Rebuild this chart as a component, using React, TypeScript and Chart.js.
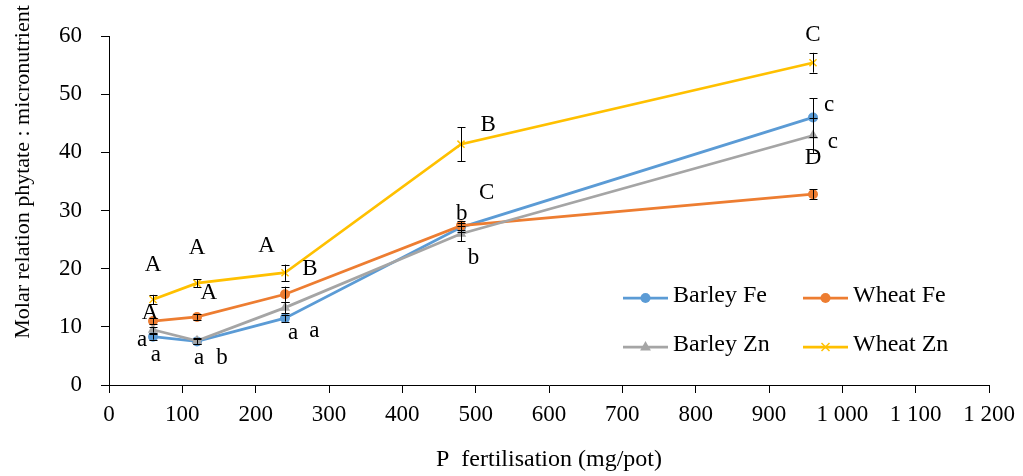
import React, { useEffect, useRef } from 'react';
import { Chart, registerables } from 'chart.js';
Chart.register(...registerables);

const FONT_FAMILY = '"Liberation Serif", "DejaVu Serif", serif';
const TICK_SIZE = 23;
const LEGEND_SIZE = 24;
const XTITLE_SIZE = 24;
const YTITLE_SIZE = 22;
const LETTER_SIZE = 23;

// Data
const pDoses = [60, 120, 240, 480, 960];
const seriesNames = ['Barley Fe', 'Wheat Fe', 'Barley Zn', 'Wheat Zn'];
const barleyFe = [8.3, 7.5, 11.5, 27.1, 46.0];
const wheatFe = [11.0, 11.7, 15.6, 27.4, 32.8];
const barleyZn = [9.5, 7.6, 13.3, 26.0, 42.9];
const wheatZn = [14.7, 17.5, 19.3, 41.4, 55.4];
const barleyFeErr = [0.5, 0.4, 0.6, 0.8, 3.3];
const wheatFeErr = [0.5, 0.5, 1.3, 0.8, 0.85];
const barleyZnErr = [0.5, 0.5, 1.0, 1.3, 3.0];
const wheatZnErr = [0.8, 0.7, 1.4, 2.9, 1.7];

const xMin = 0;
const xMax = 1200;
const xStep = 100;
const yMin = 0;
const yMax = 60;
const yStep = 10;

const xTitle = 'P  fertilisation (mg/pot)';
const yTitle = 'Molar relation phytate : micronutrient';

// Significance letters (data coordinates)
const letterX = [60, 120, 215, 274, 136, 56, 45, 64, 123, 154, 251, 280, 517, 515, 481, 497, 960, 982, 987, 960];
const letterY = [20.6, 23.6, 23.9, 20.0, 15.8, 12.4, 7.8, 5.2, 4.7, 4.7, 8.9, 9.3, 44.7, 33.0, 29.4, 21.9, 60.2, 48.2, 41.7, 39.0];
const letterText = ['A', 'A', 'A', 'B', 'A', 'A', 'a', 'a', 'a', 'b', 'a', 'a', 'B', 'C', 'b', 'b', 'C', 'c', 'c', 'D'];

const seriesValues = [barleyFe, wheatFe, barleyZn, wheatZn];
const seriesErrors = [barleyFeErr, wheatFeErr, barleyZnErr, wheatZnErr];
const seriesColors = ['#5B9BD5', '#ED7D31', '#A5A5A5', '#FFC000'];
const seriesPointStyles = ['circle', 'circle', 'triangle', 'crossRot'];

const fmtThousands = (v: number) => String(v).replace(/\B(?=(\d{3})+(?!\d))/g, ' ');

const errorBarPlugin = {
  id: 'errorBars',
  afterDatasetsDraw(chart: any) {
    const { ctx, scales } = chart;
    const xs = scales.x;
    const ys = scales.y;
    ctx.save();
    ctx.strokeStyle = '#000';
    ctx.lineWidth = 1;
    seriesValues.forEach((vals, si) => {
      vals.forEach((v, i) => {
        const e = seriesErrors[si][i];
        const x = Math.round(xs.getPixelForValue(pDoses[i])) + 0.5;
        const y1 = ys.getPixelForValue(v + e);
        const y2 = ys.getPixelForValue(v - e);
        ctx.beginPath();
        ctx.moveTo(x, y1);
        ctx.lineTo(x, y2);
        ctx.moveTo(x - 4, Math.round(y1) + 0.5);
        ctx.lineTo(x + 4, Math.round(y1) + 0.5);
        ctx.moveTo(x - 4, Math.round(y2) + 0.5);
        ctx.lineTo(x + 4, Math.round(y2) + 0.5);
        ctx.stroke();
      });
    });
    ctx.restore();
  },
};

const lettersPlugin = {
  id: 'letters',
  afterDraw(chart: any) {
    const { ctx, scales } = chart;
    ctx.save();
    ctx.font = `${LETTER_SIZE}px ${FONT_FAMILY}`;
    ctx.fillStyle = '#000';
    ctx.textAlign = 'center';
    ctx.textBaseline = 'middle';
    letterText.forEach((t, i) => {
      ctx.fillText(t, scales.x.getPixelForValue(letterX[i]), scales.y.getPixelForValue(letterY[i]));
    });
    ctx.restore();
  },
};

const yTitlePlugin = {
  id: 'yTitle',
  afterDraw(chart: any) {
    const { ctx } = chart;
    ctx.save();
    ctx.translate(23, 172);
    ctx.rotate(-Math.PI / 2);
    ctx.font = `${YTITLE_SIZE}px ${FONT_FAMILY}`;
    ctx.fillStyle = '#000';
    ctx.textAlign = 'center';
    ctx.textBaseline = 'middle';
    ctx.fillText(yTitle, 0, 0);
    ctx.restore();
  },
};

function drawMarker(ctx: CanvasRenderingContext2D, style: string, x: number, y: number, color: string) {
  ctx.save();
  ctx.fillStyle = color;
  ctx.strokeStyle = color;
  if (style === 'circle') {
    ctx.beginPath();
    ctx.arc(x, y, 5, 0, Math.PI * 2);
    ctx.fill();
  } else if (style === 'triangle') {
    const r = 6;
    ctx.beginPath();
    ctx.moveTo(x, y - r);
    ctx.lineTo(x + r * 0.9, y + r * 0.6);
    ctx.lineTo(x - r * 0.9, y + r * 0.6);
    ctx.closePath();
    ctx.fill();
  } else {
    const r = 4;
    ctx.lineWidth = 1.5;
    ctx.beginPath();
    ctx.moveTo(x - r, y - r);
    ctx.lineTo(x + r, y + r);
    ctx.moveTo(x + r, y - r);
    ctx.lineTo(x - r, y + r);
    ctx.stroke();
  }
  ctx.restore();
}

const legendPlugin = {
  id: 'customLegend',
  afterDraw(chart: any) {
    const { ctx } = chart;
    const cols = [623, 803];
    const rows = [298, 347];
    ctx.save();
    seriesNames.forEach((name, i) => {
      const cx = cols[i % 2];
      const cy = rows[Math.floor(i / 2)];
      ctx.strokeStyle = seriesColors[i];
      ctx.lineWidth = 2.75;
      ctx.beginPath();
      ctx.moveTo(cx, cy);
      ctx.lineTo(cx + 45, cy);
      ctx.stroke();
      drawMarker(ctx, seriesPointStyles[i], cx + 22.5, cy, seriesColors[i]);
      ctx.font = `${LEGEND_SIZE}px ${FONT_FAMILY}`;
      ctx.fillStyle = '#000';
      ctx.textAlign = 'left';
      ctx.textBaseline = 'middle';
      ctx.fillText(name, cx + 50, cy - 2);
    });
    ctx.restore();
  },
};

export default function App() {
  const canvasRef = useRef<HTMLCanvasElement | null>(null);

  useEffect(() => {
    if (!canvasRef.current) return;
    const tickFont = { family: FONT_FAMILY, size: TICK_SIZE };
    const datasets = seriesNames.map((name, si) => ({
      label: name,
      data: pDoses.map((x, i) => ({ x, y: seriesValues[si][i] })),
      borderColor: seriesColors[si],
      backgroundColor: seriesColors[si],
      borderWidth: 2.75,
      pointStyle: seriesPointStyles[si],
      pointRadius: si === 2 ? 6 : 5,
      pointBorderWidth: si === 3 ? 1.5 : 0,
      pointBorderColor: seriesColors[si],
      pointBackgroundColor: seriesColors[si],
      tension: 0,
      order: 4 - si,
    }));
    const chart = new Chart(canvasRef.current, {
      type: 'line',
      data: { datasets },
      options: {
        animation: false,
        responsive: false,
        devicePixelRatio: 1,
        layout: { padding: { top: 36, right: 34, left: 0, bottom: 0 } },
        plugins: {
          legend: { display: false },
          tooltip: { enabled: false },
        },
        scales: {
          x: {
            type: 'linear',
            min: xMin,
            max: xMax,
            ticks: {
              stepSize: xStep,
              font: tickFont,
              color: '#000',
              padding: 8,
              maxRotation: 0,
              autoSkip: false,
              callback: (v: any) => fmtThousands(Number(v)),
            },
            grid: { drawOnChartArea: false, tickLength: 8, color: '#000', lineWidth: 1 },
            border: { color: '#000', width: 1 },
            title: { display: true, text: xTitle, font: { family: FONT_FAMILY, size: XTITLE_SIZE }, color: '#000', padding: { top: 0, bottom: 2 } },
            afterFit: (s: any) => {
              s.height = 91;
            },
          },
          y: {
            type: 'linear',
            min: yMin,
            max: yMax,
            ticks: { stepSize: yStep, font: tickFont, color: '#000', padding: 19 },
            grid: { drawOnChartArea: false, tickLength: 8, color: '#000', lineWidth: 1 },
            border: { color: '#000', width: 1 },
            afterFit: (s: any) => {
              s.width = 109;
            },
          },
        },
      },
      plugins: [errorBarPlugin, lettersPlugin, yTitlePlugin, legendPlugin],
    } as any);
    return () => chart.destroy();
  }, []);

  return (
    <div style={{ position: 'fixed', left: 0, top: 0, width: 1023, height: 476, background: '#fff' }}>
      <canvas ref={canvasRef} width={1023} height={476} />
    </div>
  );
}
